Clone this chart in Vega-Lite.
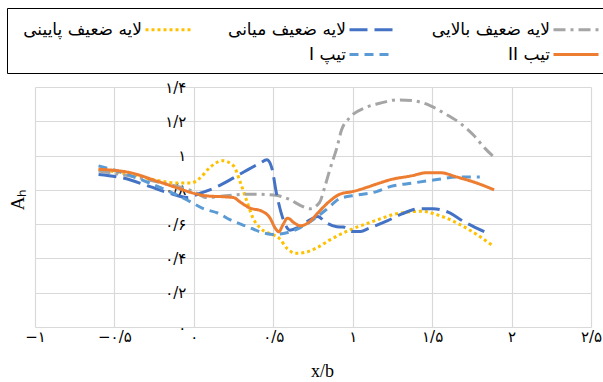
{
  "$schema": "https://vega.github.io/schema/vega-lite/v6.json",
  "width": 556,
  "height": 240,
  "autosize": {"type": "none"},
  "padding": {"left": 35, "top": 87, "right": 12, "bottom": 55},
  "background": "white",
  "config": {
    "view": {"stroke": null},
    "axis": {"gridColor": "#d9d9d9", "gridWidth": 1.2, "domain": false, "ticks": false, "tickSize": 0,
      "labelFont": "DejaVu Sans", "labelFontSize": 15, "labelColor": "black"}
  },
  "data": {"values": [
    {"s": "لایه ضعیف پایینی", "x": -0.6, "y": 0.92},
    {"s": "لایه ضعیف پایینی", "x": -0.4, "y": 0.89},
    {"s": "لایه ضعیف پایینی", "x": -0.23, "y": 0.855},
    {"s": "لایه ضعیف پایینی", "x": -0.1, "y": 0.84},
    {"s": "لایه ضعیف پایینی", "x": -0.02, "y": 0.84},
    {"s": "لایه ضعیف پایینی", "x": 0.04, "y": 0.87},
    {"s": "لایه ضعیف پایینی", "x": 0.1, "y": 0.93},
    {"s": "لایه ضعیف پایینی", "x": 0.18, "y": 0.97},
    {"s": "لایه ضعیف پایینی", "x": 0.25, "y": 0.94},
    {"s": "لایه ضعیف پایینی", "x": 0.29, "y": 0.85},
    {"s": "لایه ضعیف پایینی", "x": 0.335, "y": 0.73},
    {"s": "لایه ضعیف پایینی", "x": 0.37, "y": 0.64},
    {"s": "لایه ضعیف پایینی", "x": 0.42, "y": 0.575},
    {"s": "لایه ضعیف پایینی", "x": 0.48, "y": 0.545},
    {"s": "لایه ضعیف پایینی", "x": 0.54, "y": 0.515},
    {"s": "لایه ضعیف پایینی", "x": 0.585, "y": 0.46},
    {"s": "لایه ضعیف پایینی", "x": 0.64, "y": 0.43},
    {"s": "لایه ضعیف پایینی", "x": 0.7, "y": 0.435},
    {"s": "لایه ضعیف پایینی", "x": 0.78, "y": 0.465},
    {"s": "لایه ضعیف پایینی", "x": 0.86, "y": 0.51},
    {"s": "لایه ضعیف پایینی", "x": 0.98, "y": 0.565},
    {"s": "لایه ضعیف پایینی", "x": 1.11, "y": 0.61},
    {"s": "لایه ضعیف پایینی", "x": 1.3, "y": 0.665},
    {"s": "لایه ضعیف پایینی", "x": 1.44, "y": 0.675},
    {"s": "لایه ضعیف پایینی", "x": 1.53, "y": 0.655},
    {"s": "لایه ضعیف پایینی", "x": 1.66, "y": 0.605},
    {"s": "لایه ضعیف پایینی", "x": 1.78, "y": 0.54},
    {"s": "لایه ضعیف پایینی", "x": 1.88, "y": 0.475},

    {"s": "لایه ضعیف بالایی", "x": -0.6, "y": 0.91},
    {"s": "لایه ضعیف بالایی", "x": -0.4, "y": 0.88},
    {"s": "لایه ضعیف بالایی", "x": -0.2, "y": 0.84},
    {"s": "لایه ضعیف بالایی", "x": 0.0, "y": 0.79},
    {"s": "لایه ضعیف بالایی", "x": 0.08, "y": 0.755},
    {"s": "لایه ضعیف بالایی", "x": 0.2, "y": 0.765},
    {"s": "لایه ضعیف بالایی", "x": 0.35, "y": 0.775},
    {"s": "لایه ضعیف بالایی", "x": 0.5, "y": 0.77},
    {"s": "لایه ضعیف بالایی", "x": 0.6, "y": 0.745},
    {"s": "لایه ضعیف بالایی", "x": 0.67, "y": 0.71},
    {"s": "لایه ضعیف بالایی", "x": 0.73, "y": 0.69},
    {"s": "لایه ضعیف بالایی", "x": 0.79, "y": 0.725},
    {"s": "لایه ضعیف بالایی", "x": 0.825, "y": 0.82},
    {"s": "لایه ضعیف بالایی", "x": 0.86, "y": 0.93},
    {"s": "لایه ضعیف بالایی", "x": 0.9, "y": 1.045},
    {"s": "لایه ضعیف بالایی", "x": 0.93, "y": 1.15},
    {"s": "لایه ضعیف بالایی", "x": 0.98, "y": 1.22},
    {"s": "لایه ضعیف بالایی", "x": 1.08, "y": 1.28},
    {"s": "لایه ضعیف بالایی", "x": 1.17, "y": 1.305},
    {"s": "لایه ضعیف بالایی", "x": 1.28, "y": 1.325},
    {"s": "لایه ضعیف بالایی", "x": 1.38, "y": 1.32},
    {"s": "لایه ضعیف بالایی", "x": 1.49, "y": 1.29},
    {"s": "لایه ضعیف بالایی", "x": 1.57, "y": 1.25},
    {"s": "لایه ضعیف بالایی", "x": 1.675, "y": 1.19},
    {"s": "لایه ضعیف بالایی", "x": 1.76, "y": 1.12},
    {"s": "لایه ضعیف بالایی", "x": 1.83, "y": 1.045},
    {"s": "لایه ضعیف بالایی", "x": 1.89, "y": 0.99},

    {"s": "لایه ضعیف میانی", "x": -0.6, "y": 0.89},
    {"s": "لایه ضعیف میانی", "x": -0.45, "y": 0.87},
    {"s": "لایه ضعیف میانی", "x": -0.28, "y": 0.82},
    {"s": "لایه ضعیف میانی", "x": -0.15, "y": 0.78},
    {"s": "لایه ضعیف میانی", "x": -0.04, "y": 0.755},
    {"s": "لایه ضعیف میانی", "x": 0.04, "y": 0.78},
    {"s": "لایه ضعیف میانی", "x": 0.15, "y": 0.82},
    {"s": "لایه ضعیف میانی", "x": 0.25, "y": 0.87},
    {"s": "لایه ضعیف میانی", "x": 0.335, "y": 0.915},
    {"s": "لایه ضعیف میانی", "x": 0.415, "y": 0.955},
    {"s": "لایه ضعیف میانی", "x": 0.46, "y": 0.975},
    {"s": "لایه ضعیف میانی", "x": 0.49, "y": 0.93},
    {"s": "لایه ضعیف میانی", "x": 0.52, "y": 0.78},
    {"s": "لایه ضعیف میانی", "x": 0.56, "y": 0.635},
    {"s": "لایه ضعیف میانی", "x": 0.605, "y": 0.565},
    {"s": "لایه ضعیف میانی", "x": 0.655, "y": 0.58},
    {"s": "لایه ضعیف میانی", "x": 0.73, "y": 0.625},
    {"s": "لایه ضعیف میانی", "x": 0.78, "y": 0.645},
    {"s": "لایه ضعیف میانی", "x": 0.83, "y": 0.61},
    {"s": "لایه ضعیف میانی", "x": 0.9, "y": 0.585},
    {"s": "لایه ضعیف میانی", "x": 0.94, "y": 0.583},
    {"s": "لایه ضعیف میانی", "x": 1.0, "y": 0.557},
    {"s": "لایه ضعیف میانی", "x": 1.05, "y": 0.557},
    {"s": "لایه ضعیف میانی", "x": 1.1, "y": 0.575},
    {"s": "لایه ضعیف میانی", "x": 1.22, "y": 0.62},
    {"s": "لایه ضعیف میانی", "x": 1.31, "y": 0.66},
    {"s": "لایه ضعیف میانی", "x": 1.42, "y": 0.69},
    {"s": "لایه ضعیف میانی", "x": 1.505, "y": 0.69},
    {"s": "لایه ضعیف میانی", "x": 1.6, "y": 0.67},
    {"s": "لایه ضعیف میانی", "x": 1.7, "y": 0.615},
    {"s": "لایه ضعیف میانی", "x": 1.83, "y": 0.555},

    {"s": "\u202Bتیپ I\u202C", "x": -0.6, "y": 0.94},
    {"s": "\u202Bتیپ I\u202C", "x": -0.45, "y": 0.9},
    {"s": "\u202Bتیپ I\u202C", "x": -0.28, "y": 0.84},
    {"s": "\u202Bتیپ I\u202C", "x": -0.13, "y": 0.78},
    {"s": "\u202Bتیپ I\u202C", "x": -0.02, "y": 0.73},
    {"s": "\u202Bتیپ I\u202C", "x": 0.06, "y": 0.69},
    {"s": "\u202Bتیپ I\u202C", "x": 0.15, "y": 0.665},
    {"s": "\u202Bتیپ I\u202C", "x": 0.23, "y": 0.625},
    {"s": "\u202Bتیپ I\u202C", "x": 0.33, "y": 0.588},
    {"s": "\u202Bتیپ I\u202C", "x": 0.435, "y": 0.55},
    {"s": "\u202Bتیپ I\u202C", "x": 0.5, "y": 0.54},
    {"s": "\u202Bتیپ I\u202C", "x": 0.585, "y": 0.55},
    {"s": "\u202Bتیپ I\u202C", "x": 0.67, "y": 0.58},
    {"s": "\u202Bتیپ I\u202C", "x": 0.75, "y": 0.625},
    {"s": "\u202Bتیپ I\u202C", "x": 0.84, "y": 0.69},
    {"s": "\u202Bتیپ I\u202C", "x": 0.92, "y": 0.75},
    {"s": "\u202Bتیپ I\u202C", "x": 1.03, "y": 0.77},
    {"s": "\u202Bتیپ I\u202C", "x": 1.15, "y": 0.79},
    {"s": "\u202Bتیپ I\u202C", "x": 1.24, "y": 0.82},
    {"s": "\u202Bتیپ I\u202C", "x": 1.38, "y": 0.84},
    {"s": "\u202Bتیپ I\u202C", "x": 1.53, "y": 0.86},
    {"s": "\u202Bتیپ I\u202C", "x": 1.66, "y": 0.875},
    {"s": "\u202Bتیپ I\u202C", "x": 1.8, "y": 0.875},

    {"s": "\u202Bتیب II\u202C", "x": -0.6, "y": 0.92},
    {"s": "\u202Bتیب II\u202C", "x": -0.4, "y": 0.9},
    {"s": "\u202Bتیب II\u202C", "x": -0.23, "y": 0.85},
    {"s": "\u202Bتیب II\u202C", "x": -0.1, "y": 0.81},
    {"s": "\u202Bتیب II\u202C", "x": -0.02, "y": 0.785},
    {"s": "\u202Bتیب II\u202C", "x": 0.08, "y": 0.765},
    {"s": "\u202Bتیب II\u202C", "x": 0.18, "y": 0.76},
    {"s": "\u202Bتیب II\u202C", "x": 0.25, "y": 0.755},
    {"s": "\u202Bتیب II\u202C", "x": 0.29, "y": 0.73},
    {"s": "\u202Bتیب II\u202C", "x": 0.35, "y": 0.695},
    {"s": "\u202Bتیب II\u202C", "x": 0.43, "y": 0.675},
    {"s": "\u202Bتیب II\u202C", "x": 0.48, "y": 0.635},
    {"s": "\u202Bتیب II\u202C", "x": 0.51, "y": 0.58},
    {"s": "\u202Bتیب II\u202C", "x": 0.535, "y": 0.555},
    {"s": "\u202Bتیب II\u202C", "x": 0.56, "y": 0.595},
    {"s": "\u202Bتیب II\u202C", "x": 0.59, "y": 0.635},
    {"s": "\u202Bتیب II\u202C", "x": 0.635, "y": 0.605},
    {"s": "\u202Bتیب II\u202C", "x": 0.67, "y": 0.59},
    {"s": "\u202Bتیب II\u202C", "x": 0.73, "y": 0.615},
    {"s": "\u202Bتیب II\u202C", "x": 0.78, "y": 0.665},
    {"s": "\u202Bتیب II\u202C", "x": 0.85, "y": 0.73},
    {"s": "\u202Bتیب II\u202C", "x": 0.92, "y": 0.775},
    {"s": "\u202Bتیب II\u202C", "x": 1.0, "y": 0.79},
    {"s": "\u202Bتیب II\u202C", "x": 1.09, "y": 0.815},
    {"s": "\u202Bتیب II\u202C", "x": 1.17, "y": 0.84},
    {"s": "\u202Bتیب II\u202C", "x": 1.24, "y": 0.86},
    {"s": "\u202Bتیب II\u202C", "x": 1.36, "y": 0.88},
    {"s": "\u202Bتیب II\u202C", "x": 1.47, "y": 0.9},
    {"s": "\u202Bتیب II\u202C", "x": 1.55, "y": 0.9},
    {"s": "\u202Bتیب II\u202C", "x": 1.655, "y": 0.875},
    {"s": "\u202Bتیب II\u202C", "x": 1.78, "y": 0.84},
    {"s": "\u202Bتیب II\u202C", "x": 1.89, "y": 0.8}
  ]},
  "mark": {"type": "line", "interpolate": "monotone", "strokeWidth": 3},
  "encoding": {
    "x": {"field": "x", "type": "quantitative",
      "scale": {"domain": [-1, 2.5], "nice": false, "zero": false},
      "axis": {"values": [-1, -0.5, 0, 0.5, 1, 1.5, 2, 2.5], "format": ".1~f",
        "labelExpr": "replace(replace(replace(replace(replace(replace(replace(replace(replace(datum.label,'.','/'),regexp('0','g'),'۰'),regexp('1','g'),'۱'),regexp('2','g'),'۲'),regexp('4','g'),'۴'),regexp('5','g'),'۵'),regexp('6','g'),'۶'),regexp('8','g'),'۸'),'-','−')",
        "labelPadding": 2, "labelFlush": false,
        "title": "x/b", "titleFont": "Liberation Serif", "titleFontSize": 18, "titleFontWeight": "normal",
        "titleX": 287, "titleY": 35, "titleBaseline": "top"}},
    "y": {"field": "y", "type": "quantitative",
      "scale": {"domain": [0, 1.4], "nice": false},
      "axis": {"values": [0, 0.2, 0.4, 0.6, 0.8, 1, 1.2, 1.4], "format": ".1~f",
        "labelExpr": "replace(replace(replace(replace(replace(replace(replace(replace(replace(datum.label,'.','/'),regexp('0','g'),'۰'),regexp('1','g'),'۱'),regexp('2','g'),'۲'),regexp('4','g'),'۴'),regexp('5','g'),'۵'),regexp('6','g'),'۶'),regexp('8','g'),'۸'),'-','−')",
        "offset": -158.86, "labelPadding": 8, "labelFlush": false,
        "title": "Aₕ", "titleFont": "Liberation Serif", "titleFontSize": 19, "titleFontWeight": "normal",
        "titleAngle": -90, "titleX": -166, "titleY": 112, "titleBaseline": "bottom", "titleAlign": "center"}},
    "color": {"field": "s", "type": "nominal",
      "scale": {"domain": ["لایه ضعیف پایینی", "لایه ضعیف میانی", "لایه ضعیف بالایی", " ", "\u202Bتیپ I\u202C", "\u202Bتیب II\u202C"],
        "range": ["#ffc000", "#4472c4", "#a5a5a5", "transparent", "#5b9bd5", "#ed7d31"]},
      "legend": {"orient": "none", "legendX": -28, "legendY": -79, "direction": "horizontal", "columns": 3,
        "title": "⠀", "titleOrient": "left", "titleFontSize": 10, "titlePadding": 120,
        "symbolType": "M-1,0H3.5", "symbolSize": 400, "symbolStrokeWidth": 3,
        "labelFont": "DejaVu Sans", "labelFontSize": 17, "labelColor": "black", "labelLimit": 400,
        "labelAlign": "right", "labelOffset": -25, "columnPadding": 30, "rowPadding": 5,
        "strokeColor": "black", "padding": 10}},
    "strokeDash": {"field": "s", "type": "nominal",
      "scale": {"domain": ["لایه ضعیف پایینی", "لایه ضعیف میانی", "لایه ضعیف بالایی", " ", "\u202Bتیپ I\u202C", "\u202Bتیب II\u202C"],
        "range": [[3, 3], [18, 7], [12, 5, 3, 5], [1, 0], [9, 6], [1, 0]]}}
  }
}
